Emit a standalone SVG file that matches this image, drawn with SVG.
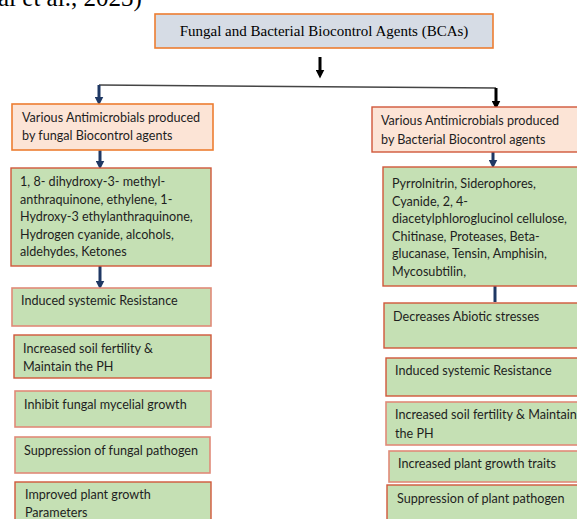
<svg xmlns="http://www.w3.org/2000/svg" width="577" height="519" viewBox="0 0 577 519">
<style>
.t{font-family:Lato,"Liberation Sans",sans-serif;font-size:12.6px;fill:#1e1e1e}
.top{fill:#d6dce5;stroke:#ed7d31;stroke-width:1.6}
.org{fill:#fce4d6;stroke:#ed7d31;stroke-width:1.6}
.org2{fill:#fce4d6;stroke:#d0573a;stroke-width:1.4}
.grn{fill:#c5e0b4;stroke:#d0573a;stroke-width:1.4}
.grn2{fill:#c5e0b4;stroke:#e08a78;stroke-width:1.6}
.blue{stroke:#1f3864;stroke-width:3;fill:none}
.blk{stroke:#000;stroke-width:3;fill:none}
</style>
<defs>
<marker id="ab" viewBox="0 0 10 10" refX="5" refY="5" markerWidth="3" markerHeight="3" markerUnits="strokeWidth" orient="auto"><path d="M0,0 L10,5 L0,10 z" fill="#1f3864"/></marker>
<marker id="ak" viewBox="0 0 10 10" refX="5" refY="5" markerWidth="3" markerHeight="3" markerUnits="strokeWidth" orient="auto"><path d="M0,0 L10,5 L0,10 z" fill="#000"/></marker>
</defs>
<rect width="577" height="519" fill="#fff"/>
<text x="-2" y="6" font-family="Liberation Serif,serif" font-size="25" fill="#000">al et al., 2023)</text>

<g id="connectors">
<line x1="320" y1="57" x2="320" y2="74" class="blk" marker-end="url(#ak)"/>
<line x1="99" y1="85" x2="496" y2="88" stroke="#444" stroke-width="1.5"/>
<line x1="99" y1="85" x2="99" y2="101" class="blue" marker-end="url(#ab)"/>
<line x1="496" y1="88" x2="496" y2="105" class="blk" marker-end="url(#ak)"/>
<line x1="100" y1="150" x2="100" y2="165" class="blue" marker-end="url(#ab)"/>
<line x1="100" y1="266" x2="100" y2="285" class="blue" marker-end="url(#ab)"/>
<line x1="493" y1="152" x2="493" y2="164" class="blue" marker-end="url(#ab)"/>
<line x1="495" y1="286" x2="495" y2="302" class="blue"/>
</g>

<g id="n-bca">
<rect x="155" y="14" width="338" height="34" class="top"/>
<text x="324" y="36" text-anchor="middle" font-family="Liberation Serif,serif" font-size="15" fill="#000">Fungal and Bacterial Biocontrol Agents (BCAs)</text>
</g>

<g id="n-fungal">
<rect x="12" y="104" width="201" height="46" class="org"/>
<text class="t" x="22" y="122">Various Antimicrobials produced</text>
<text class="t" x="22" y="140">by fungal Biocontrol agents</text>
</g>
<g id="n-fungal-list">
<rect x="11" y="168" width="200" height="98" class="grn"/>
<text class="t" x="20" y="186">1, 8- dihydroxy-3- methyl-</text>
<text class="t" x="20" y="203.5">anthraquinone, ethylene, 1-</text>
<text class="t" x="20" y="221">Hydroxy-3 ethylanthraquinone,</text>
<text class="t" x="20" y="238.5">Hydrogen cyanide, alcohols,</text>
<text class="t" x="20" y="256">aldehydes, Ketones</text>
</g>
<g id="n-f1">
<rect x="12" y="288" width="199" height="38" class="grn2"/>
<text class="t" x="21" y="305">Induced systemic Resistance</text>
</g>
<g id="n-f2">
<rect x="14" y="335" width="197" height="43" class="grn"/>
<text class="t" x="23" y="353">Increased soil fertility &amp;</text>
<text class="t" x="23" y="371">Maintain the PH</text>
</g>
<g id="n-f3">
<rect x="15" y="391" width="196" height="36" class="grn2"/>
<text class="t" x="24" y="409">Inhibit fungal mycelial growth</text>
</g>
<g id="n-f4">
<rect x="15" y="437" width="195" height="36" class="grn2"/>
<text class="t" x="24" y="455">Suppression of fungal pathogen</text>
</g>
<g id="n-f5">
<rect x="15" y="482" width="196" height="45" class="grn"/>
<text class="t" x="25" y="499">Improved plant growth</text>
<text class="t" x="25" y="517">Parameters</text>
</g>

<g id="n-bacterial">
<rect x="372" y="107" width="215" height="45" class="org2"/>
<text class="t" x="381" y="125">Various Antimicrobials produced</text>
<text class="t" x="381" y="144">by Bacterial Biocontrol agents</text>
</g>
<g id="n-bacterial-list">
<rect x="383" y="167" width="205" height="119" class="grn"/>
<text class="t" x="392" y="188">Pyrrolnitrin, Siderophores,</text>
<text class="t" x="392" y="205.5">Cyanide, 2, 4-</text>
<text class="t" x="392" y="223">diacetylphloroglucinol cellulose,</text>
<text class="t" x="392" y="240.5">Chitinase, Proteases, Beta-</text>
<text class="t" x="392" y="258">glucanase, Tensin, Amphisin,</text>
<text class="t" x="392" y="275.5">Mycosubtilin,</text>
</g>
<g id="n-b1">
<rect x="384" y="303" width="205" height="45" class="grn"/>
<text class="t" x="393" y="321">Decreases Abiotic stresses</text>
</g>
<g id="n-b2">
<rect x="386" y="358" width="203" height="38" class="grn"/>
<text class="t" x="395" y="375">Induced systemic Resistance</text>
</g>
<g id="n-b3">
<rect x="386" y="402" width="203" height="43" class="grn2"/>
<text class="t" x="395" y="419">Increased soil fertility &amp; Maintain</text>
<text class="t" x="395" y="438">the PH</text>
</g>
<g id="n-b4">
<rect x="389" y="451" width="200" height="31" class="grn2"/>
<text class="t" x="398" y="468">Increased plant growth traits</text>
</g>
<g id="n-b5">
<rect x="387" y="485" width="202" height="45" class="grn"/>
<text class="t" x="397" y="503">Suppression of plant pathogen</text>
</g>
</svg>
